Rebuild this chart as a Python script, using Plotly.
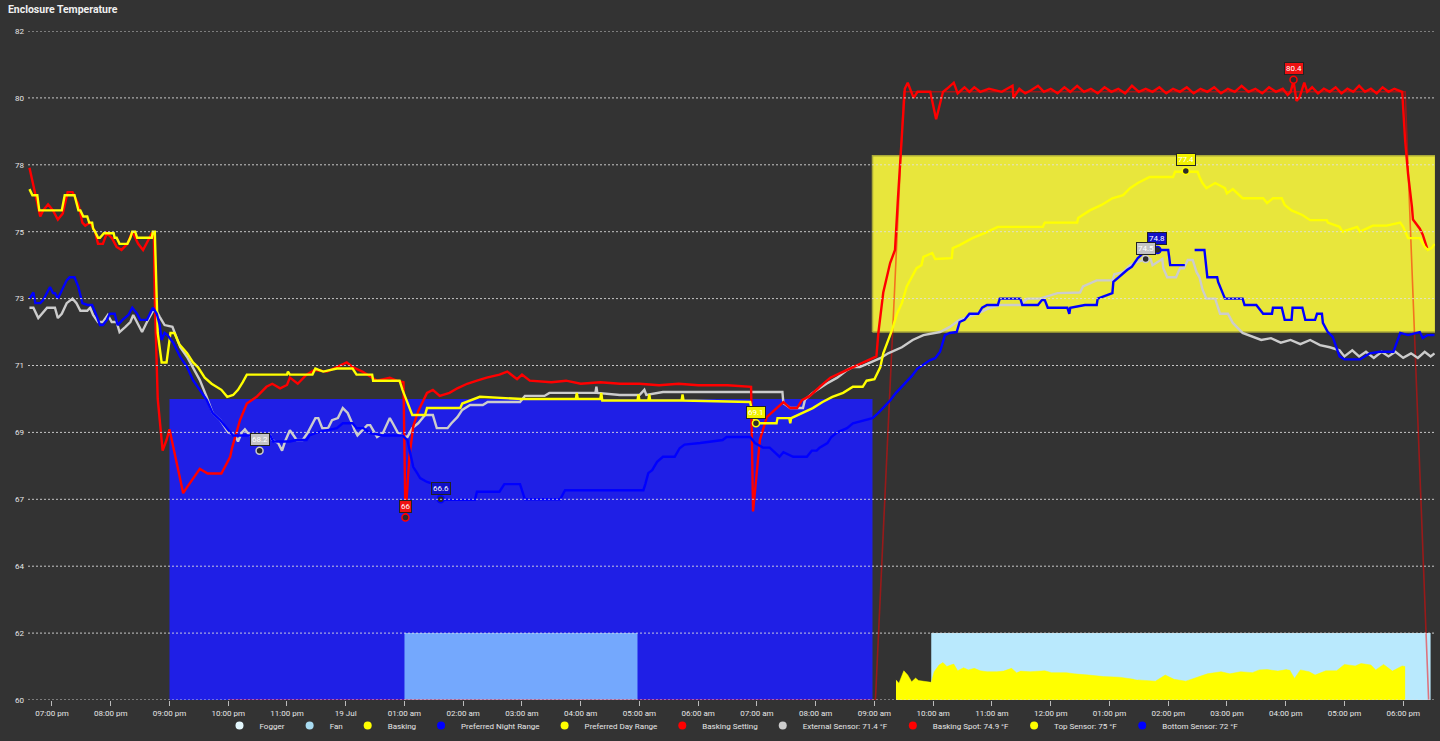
import plotly.graph_objects as go

# ---------------------------------------------------------------------------
# Data. Clock times "HH:MM"; the window runs from
# 18:35 on 18 Jul to ~18:33 on 19 Jul, so the date is implied by the time.
# ---------------------------------------------------------------------------
DAY_ONE = "2023-07-18"
DAY_TWO = "2023-07-19"

tick_clock = ["19:00", "20:00", "21:00", "22:00", "23:00", "00:00", "01:00", "02:00",
              "03:00", "04:00", "05:00", "06:00", "07:00", "08:00", "09:00", "10:00",
              "11:00", "12:00", "13:00", "14:00", "15:00", "16:00", "17:00", "18:00"]
tick_text = ["07:00 pm", "08:00 pm", "09:00 pm", "10:00 pm", "11:00 pm", "19 Jul",
             "01:00 am", "02:00 am", "03:00 am", "04:00 am", "05:00 am", "06:00 am",
             "07:00 am", "08:00 am", "09:00 am", "10:00 am", "11:00 am", "12:00 pm",
             "01:00 pm", "02:00 pm", "03:00 pm", "04:00 pm", "05:00 pm", "06:00 pm"]

y_tick_values = [60, 62.2, 64.4, 66.6, 68.8, 71, 73.2, 75.4, 77.6, 79.8, 82]
y_tick_text = ["60", "62", "64", "67", "69", "71", "73", "75", "78", "80", "82"]

# preferred ranges
night_range_times = ["21:00", "08:58"]
night_range_low = 60
night_range_high = 69.9
day_range_times = ["08:58", "18:33"]
day_range_low = 72.1
day_range_high = 77.9

# on/off devices (drawn as level 62.2 when on)
fogger_times = ["01:00", "04:58"]
fogger_values = [62.2, 62.2]
fan_times = ["09:58", "18:28"]
fan_values = [62.2, 62.2]

basking_times = ["09:22", "09:25", "09:30", "09:34", "09:38", "09:42", "09:45", "09:52",
                 "09:58", "10:01", "10:06", "10:10", "10:14", "10:18", "10:21", "10:25",
                 "10:31", "10:36", "10:42", "10:48", "10:55", "11:05", "11:12", "11:20",
                 "11:25", "11:27", "11:29", "11:39", "11:54", "12:01", "12:16", "12:24",
                 "12:39", "12:54", "13:10", "13:25", "13:27", "13:29", "13:47", "13:57",
                 "14:06", "14:18", "14:29", "14:40", "14:54", "15:03", "15:14", "15:26",
                 "15:33", "15:41", "15:52", "16:01", "16:02", "16:04", "16:09", "16:15",
                 "16:24", "16:30", "16:41", "16:52", "17:00", "17:11", "17:17", "17:27",
                 "17:32", "17:40", "17:49", "17:59", "18:02"]
basking_values = [60.66, 60.55, 60.96, 60.82, 60.6, 60.72, 60.64, 60.6,
                  60.58, 60.93, 61.15, 61.23, 61.1, 61.15, 61.18, 60.96,
                  61.06, 60.99, 61.04, 60.96, 60.93, 60.93, 60.95, 61.04,
                  60.9, None, 60.95, 60.93, 60.96, 60.9, 60.9, 60.86,
                  60.82, 60.77, 60.75, 60.68, None, 60.66, 60.62, 60.82,
                  60.68, 60.62, 60.75, 60.86, 60.93, 60.86, 60.93, 60.9,
                  60.99, 61.0, 60.95, 61.0, None, 60.99, 60.71, 60.99,
                  60.93, 60.82, 60.96, 60.96, 61.17, 61.12, 61.2, 61.15,
                  60.99, 61.17, 60.95, 61.12, 61.1]

basking_setting_times = ["22:00", "09:01", "09:30", "18:02", "18:26"]
basking_setting_values = [60, 60, 80, 80, 60]

external_times = ["18:37", "18:41", "18:46", "18:50", "18:55", "19:03", "19:06", "19:10",
                  "19:15", "19:21", "19:25", "19:29", "19:36", "19:39", "19:42", "19:47",
                  "19:52", "19:57", "20:01", "20:06", "20:09", "20:15", "20:20", "20:23",
                  "20:27", "20:32", "20:37", "20:42", "20:45", "20:50", "20:55", "21:03",
                  "21:11", "21:18", "21:24", "21:31", "21:38", "21:44", "21:52", "22:00",
                  "22:07", "22:10", "22:14", "22:17", "22:22", "22:43", "22:45", "22:51",
                  "22:55", "22:58", "23:03", "23:10", "23:16", "23:21", "23:29", "23:32",
                  "23:36", "23:42", "23:46", "23:52", "23:57", "00:02", "00:06", "00:09",
                  "00:12", "00:22", "00:25", "00:32", "00:38", "00:45", "00:48", "00:53",
                  "00:58", "01:03", "01:08", "01:14", "01:21", "01:29", "01:33", "01:44",
                  "01:48", "01:54", "01:59", "02:07", "02:20", "02:25", "02:58", "03:03",
                  "03:23", "03:28", "04:15", "04:16", "04:17", "04:40", "05:00", "05:05",
                  "05:07", "05:24", "07:26", "07:27", "07:34", "07:47", "07:49", "07:57",
                  "08:11", "08:22", "08:32", "08:38", "08:45", "08:55", "09:06", "09:14",
                  "09:28", "09:39", "09:50", "10:07", "10:17", "10:27", "10:45", "10:58",
                  "11:08", "11:29", "11:36", "11:49", "12:07", "12:30", "12:33", "12:47",
                  "13:03", "13:05", "13:14", "13:21", "13:28", "13:38", "13:42", "13:44",
                  "13:54", "13:55", "13:59", "14:08", "14:12", "14:16", "14:20", "14:25",
                  "14:29", "14:32", "14:35", "14:39", "14:48", "14:50", "14:53", "15:01",
                  "15:06", "15:16", "15:25", "15:35", "15:45", "15:55", "16:05", "16:15",
                  "16:25", "16:35", "16:45", "16:55", "17:00", "17:08", "17:15", "17:22",
                  "17:30", "17:38", "17:45", "17:52", "18:00", "18:08", "18:15", "18:22",
                  "18:28", "18:32"]
external_values = [72.9, 72.9, 72.56, 72.7, 72.9, 72.9, 72.56, 72.7,
                   73.05, 73.2, 73.05, 72.8, 72.8, 72.9, 72.66, 72.43,
                   72.43, 72.66, 72.43, 72.43, 72.1, 72.27, 72.43, 72.66,
                   72.43, 72.1, 72.43, 72.7, 72.9, 72.6, 72.33, 72.27,
                   71.6, 71.28, 70.95, 70.52, 69.97, 69.44, 69.2, 68.8,
                   68.7, 68.5, 68.8, 68.9, 68.7, 68.7, 68.55, 68.45,
                   68.2, 68.5, 68.87, 68.55, 68.55, 68.78, 69.27, 69.27,
                   68.94, 68.94, 69.2, 69.27, 69.6, 69.44, 69.14, 68.88,
                   68.7, 69.04, 69.04, 68.65, 68.78, 69.27, 69.1, 68.8,
                   68.7, 68.65, 68.94, 69.1, 69.37, 69.37, 68.94, 68.94,
                   69.1, 69.3, 69.54, 69.7, 69.7, 69.8, 69.8, 70.0,
                   70.0, 70.1, 70.1, 70.3, 70.1, 70.03, 70.03, 70.2,
                   70.03, 70.13, 70.13, 69.76, 69.6, 69.6, 69.87, 70.1,
                   70.4, 70.6, 70.85, 70.95, 70.95, 71.1, 71.24, 71.4,
                   71.6, 71.84, 72.0, 72.1, 72.27, 72.5, 72.7, 72.9,
                   72.99, 72.99, 73.2, 73.2, 73.38, 73.4, 73.6, 73.8,
                   73.8, 74.0, 74.07, 74.3, 74.4, 74.5, 74.5, 74.3,
                   74.5, 74.2, 73.9, 73.9, 74.2, 74.2, 74.47, 74.47,
                   74.07, 73.9, 73.5, 73.2, 73.2, 72.99, 72.7, 72.7,
                   72.4, 72.07, 71.96, 71.84, 71.9, 71.75, 71.84, 71.7,
                   71.84, 71.67, 71.6, 71.5, 71.3, 71.5, 71.3, 71.45,
                   71.25, 71.45, 71.3, 71.45, 71.25, 71.4, 71.25, 71.45,
                   71.3, 71.4]

basking_spot_times = ["18:37", "18:48", "18:51", "18:56", "19:01", "19:06", "19:11", "19:16",
                      "19:21", "19:27", "19:31", "19:34", "19:39", "19:44", "19:47", "19:52",
                      "19:56", "20:01", "20:06", "20:11", "20:17", "20:22", "20:25", "20:28",
                      "20:33", "20:38", "20:42", "20:44", "20:45", "20:48", "20:52", "20:53",
                      "20:57", "21:00", "21:14", "21:18", "21:31", "21:39", "21:53", "22:02",
                      "22:04", "22:12", "22:19", "22:29", "22:39", "22:45", "22:53", "23:00",
                      "23:03", "23:11", "23:20", "23:28", "23:41", "23:54", "00:01", "00:07",
                      "00:17", "00:32", "00:45", "00:52", "00:59", "01:01", "01:05", "01:09",
                      "01:14", "01:23", "01:29", "01:36", "01:46", "01:54", "02:04", "02:14",
                      "02:24", "02:37", "02:45", "02:55", "03:00", "03:08", "03:30", "03:45",
                      "04:00", "04:20", "04:40", "05:00", "05:20", "05:40", "06:00", "06:30",
                      "06:54", "06:56", "07:03", "07:10", "07:20", "07:27", "07:34", "07:41",
                      "07:46", "07:54", "08:04", "08:15", "08:25", "08:38", "08:48", "08:55",
                      "09:02", "09:04", "09:09", "09:16", "09:21", "09:24", "09:28", "09:31",
                      "09:34", "09:40", "09:44", "09:57", "10:03", "10:10", "10:14", "10:21",
                      "10:25", "10:32", "10:37", "10:42", "10:48", "10:57", "11:10", "11:21",
                      "11:22", "11:28", "11:34", "11:40", "11:47", "11:53", "12:00", "12:07",
                      "12:14", "12:20", "12:27", "12:34", "12:41", "12:48", "12:55", "13:02",
                      "13:09", "13:16", "13:23", "13:30", "13:37", "13:44", "13:51", "13:58",
                      "14:05", "14:12", "14:19", "14:26", "14:33", "14:40", "14:47", "14:54",
                      "15:01", "15:08", "15:15", "15:22", "15:29", "15:36", "15:43", "15:50",
                      "15:57", "16:02", "16:05", "16:08", "16:11", "16:14", "16:19", "16:22",
                      "16:27", "16:33", "16:39", "16:45", "16:51", "16:57", "17:03", "17:09",
                      "17:15", "17:21", "17:27", "17:33", "17:39", "17:45", "17:51", "17:56",
                      "17:59", "18:02", "18:05", "18:09", "18:10", "18:17", "18:20", "18:24",
                      "18:25"]
basking_spot_values = [77.5, 75.9, 76.1, 76.3, 76.1, 75.8, 76.0, 76.7,
                       76.7, 76.3, 75.7, 75.6, 75.7, 75.4, 75.0, 75.0,
                       75.35, 75.2, 74.9, 74.8, 75.0, 75.4, 75.2, 75.0,
                       74.8, 75.1, 75.35, 75.4, 73.2, 69.9, 68.5, 68.2,
                       68.55, 68.9, 66.8, 67.0, 67.6, 67.45, 67.45, 68.0,
                       68.3, 69.2, 69.75, 69.97, 70.3, 70.4, 70.25, 70.36,
                       70.6, 70.4, 70.7, 70.85, 70.8, 71.0, 71.1, 70.95,
                       70.8, 70.5, 70.6, 70.5, 70.45, 66.0, 68.0, 69.0,
                       69.5, 70.1, 70.2, 70.0, 70.1, 70.25, 70.4, 70.5,
                       70.6, 70.7, 70.8, 70.55, 70.7, 70.5, 70.45, 70.5,
                       70.4, 70.45, 70.4, 70.4, 70.35, 70.4, 70.35, 70.35,
                       70.3, 66.2, 68.55, 69.3, 69.6, 69.8, 69.6, 69.6,
                       69.86, 70.0, 70.3, 70.6, 70.75, 70.95, 71.1, 71.2,
                       71.3, 72.07, 73.4, 74.37, 74.8, 76.5, 78.4, 80.1,
                       80.3, 79.8, 80.0, 80.0, 79.1, 80.0, 80.1, 80.3,
                       79.95, 80.15, 80.0, 80.15, 80.0, 80.1, 80.0, 80.2,
                       79.8, 80.1, 79.95, 80.05, 80.2, 80.0, 80.1, 79.95,
                       80.15, 80.0, 80.2, 80.0, 80.1, 79.95, 80.15, 80.0,
                       80.1, 79.95, 80.2, 80.0, 80.1, 80.0, 80.15, 79.95,
                       80.1, 80.0, 80.15, 79.95, 80.1, 80.0, 80.15, 79.95,
                       80.1, 80.0, 80.2, 80.0, 80.1, 79.95, 80.15, 80.0,
                       80.1, 79.9, 80.0, 80.35, 79.7, 79.8, 80.3, 80.0,
                       80.15, 79.95, 80.1, 80.0, 80.15, 79.95, 80.1, 80.0,
                       80.2, 80.0, 80.1, 79.95, 80.15, 80.0, 80.1, 80.05,
                       80.0, 78.4, 77.3, 76.2, 75.8, 75.5, 75.3, 74.9,
                       74.8]

top_times = ["18:37", "18:40", "18:45", "18:47", "19:10", "19:13", "19:23", "19:27",
             "19:29", "19:32", "19:36", "19:38", "19:41", "19:42", "19:44", "19:47",
             "19:49", "19:53", "20:03", "20:04", "20:06", "20:09", "20:17", "20:20",
             "20:22", "20:25", "20:27", "20:42", "20:43", "20:45", "20:47", "20:48",
             "20:52", "20:57", "21:01", "21:05", "21:10", "21:18", "21:24", "21:29",
             "21:36", "21:43", "21:53", "21:59", "22:05", "22:10", "22:15", "22:19",
             "23:00", "23:01", "23:03", "23:26", "23:29", "23:37", "23:51", "00:07",
             "00:11", "00:27", "00:28", "00:55", "00:58", "01:03", "01:08", "01:21",
             "01:23", "01:57", "01:59", "02:17", "03:00", "03:55", "03:56", "03:57",
             "04:20", "04:21", "04:22", "04:58", "04:59", "05:00", "05:09", "05:10",
             "05:11", "05:43", "05:44", "05:45", "06:53", "06:56", "06:58", "07:20",
             "07:21", "07:33", "07:34", "07:35", "07:44", "07:57", "08:07", "08:17",
             "08:28", "08:38", "08:48", "08:52", "09:00", "09:06", "09:09", "09:14",
             "09:18", "09:23", "09:28", "09:33", "09:38", "09:43", "09:48", "09:50",
             "09:59", "10:02", "10:19", "10:20", "10:27", "10:40", "10:53", "11:06",
             "11:52", "11:54", "12:27", "12:28", "12:40", "12:52", "13:03", "13:14",
             "13:21", "13:29", "13:41", "14:05", "14:07", "14:30", "14:32", "14:35",
             "14:39", "14:48", "14:58", "15:00", "15:06", "15:10", "15:16", "15:37",
             "15:41", "15:47", "15:56", "15:59", "16:06", "16:17", "16:25", "16:42",
             "16:43", "16:55", "16:58", "17:13", "17:16", "17:29", "17:43", "17:57",
             "18:00", "18:05", "18:17", "18:22", "18:25", "18:29", "18:32"]
top_values = [76.8, 76.6, 76.6, 76.1, 76.1, 76.6, 76.6, 76.1,
              76.1, 75.9, 75.9, 75.7, 75.7, 75.5, 75.4, 75.2,
              75.2, 75.35, 75.35, 75.2, 75.2, 75.0, 75.0, 75.2,
              75.4, 75.4, 75.2, 75.2, 75.4, 75.4, 73.15, 72.07,
              71.1, 71.1, 72.07, 72.07, 71.7, 71.4, 71.1, 70.95,
              70.6, 70.4, 70.2, 69.97, 70.03, 70.2, 70.46, 70.7,
              70.7, 70.8, 70.7, 70.7, 70.9, 70.8, 70.9, 70.9,
              70.7, 70.7, 70.5, 70.5, 70.2, 69.75, 69.37, 69.37,
              69.6, 69.6, 69.75, 69.97, 69.9, 69.9, 70.1, 69.9,
              69.9, 70.1, 69.85, 69.85, 70.05, 69.85, 69.85, 70.05,
              69.85, 69.85, 70.05, 69.85, 69.8, 69.37, 69.1, 69.1,
              69.27, 69.27, 69.1, 69.27, 69.4, 69.6, 69.8, 69.97,
              70.1, 70.3, 70.3, 70.5, 70.55, 70.95, 71.4, 71.84,
              72.17, 72.7, 73.05, 73.6, 73.9, 74.2, 74.3, 74.57,
              74.7, 74.5, 74.53, 74.86, 74.96, 75.19, 75.36, 75.56,
              75.56, 75.7, 75.7, 75.85, 76.1, 76.28, 76.5, 76.6,
              76.83, 77.0, 77.2, 77.2, 77.37, 77.37, 77.2, 77.0,
              76.83, 77.0, 76.83, 76.66, 76.8, 76.67, 76.5, 76.5,
              76.34, 76.5, 76.5, 76.28, 76.1, 75.95, 75.78, 75.78,
              75.7, 75.56, 75.4, 75.56, 75.4, 75.6, 75.6, 75.7,
              75.56, 75.19, 75.19, 74.9, 74.8, 74.86, 75.0]

bottom_times = ["18:37", "18:41", "18:43", "18:48", "18:51", "18:55", "18:58", "19:01",
                "19:03", "19:06", "19:11", "19:15", "19:18", "19:23", "19:27", "19:31",
                "19:36", "19:41", "19:46", "19:49", "19:52", "19:56", "19:59", "20:04",
                "20:07", "20:12", "20:18", "20:22", "20:27", "20:30", "20:37", "20:40",
                "20:43", "20:47", "20:50", "20:52", "20:55", "20:58", "21:04", "21:11",
                "21:18", "21:24", "21:31", "21:38", "21:44", "21:52", "22:00", "22:05",
                "22:43", "22:46", "23:03", "23:10", "23:20", "23:23", "23:31", "23:44",
                "23:51", "23:57", "00:07", "00:11", "00:18", "00:25", "00:38", "00:58",
                "01:03", "01:06", "01:09", "01:13", "01:16", "01:23", "01:33", "01:36",
                "02:12", "02:14", "02:37", "02:42", "02:58", "03:03", "03:39", "03:44",
                "05:04", "05:06", "05:09", "05:13", "05:18", "05:24", "05:36", "05:41",
                "05:46", "06:02", "06:25", "06:29", "06:53", "06:58", "07:06", "07:13",
                "07:23", "07:27", "07:37", "07:51", "07:56", "08:01", "08:04", "08:12",
                "08:16", "08:22", "08:27", "08:32", "08:38", "08:58", "09:04", "09:09",
                "09:16", "09:22", "09:28", "09:33", "09:38", "09:44", "09:52", "09:57",
                "10:02", "10:07", "10:12", "10:17", "10:24", "10:27", "10:32", "10:37",
                "10:46", "10:50", "10:55", "11:06", "11:08", "11:29", "11:31", "11:47",
                "11:51", "11:54", "11:57", "12:17", "12:19", "12:20", "12:35", "12:47",
                "12:48", "13:03", "13:04", "13:09", "13:18", "13:23", "13:29", "13:38",
                "14:00", "14:01", "14:02", "14:17", "14:22", "14:27", "14:37", "14:40",
                "14:50", "14:51", "14:55", "14:58", "15:16", "15:18", "15:30", "15:37",
                "15:46", "15:47", "15:56", "15:59", "16:06", "16:07", "16:17", "16:20",
                "16:30", "16:32", "16:37", "16:38", "16:43", "16:48", "16:55", "17:00",
                "17:16", "17:21", "17:26", "17:36", "17:50", "17:57", "18:05", "18:17",
                "18:20", "18:25", "18:32"]
bottom_values = [73.2, 73.4, 73.05, 73.05, 73.15, 73.38, 73.58, 73.38,
                 73.38, 73.2, 73.55, 73.8, 73.9, 73.9, 73.58, 73.05,
                 72.99, 72.99, 72.6, 72.33, 72.33, 72.5, 72.7, 72.7,
                 72.33, 72.5, 72.66, 72.9, 72.7, 72.5, 72.5, 72.7,
                 72.9, 72.7, 72.33, 71.84, 72.07, 72.0, 71.74, 71.28,
                 70.95, 70.52, 70.2, 69.87, 69.44, 69.2, 68.88, 68.7,
                 68.7, 68.5, 68.5, 68.55, 68.55, 68.7, 68.8, 68.88,
                 68.94, 69.1, 69.1, 68.94, 68.94, 68.78, 68.7, 68.7,
                 68.55, 68.1, 67.66, 67.46, 67.3, 67.17, 67.07, 66.58,
                 66.58, 66.85, 66.85, 67.1, 67.1, 66.6, 66.6, 66.9,
                 66.9, 67.1, 67.46, 67.56, 67.83, 68.0, 68.0, 68.28,
                 68.4, 68.45, 68.55, 68.65, 68.65, 68.45, 68.3, 68.3,
                 68.0, 68.15, 68.0, 68.0, 68.2, 68.2, 68.3, 68.45,
                 68.65, 68.8, 68.88, 68.94, 69.1, 69.27, 69.44, 69.6,
                 69.85, 70.1, 70.3, 70.45, 70.65, 70.9, 71.08, 71.18,
                 71.24, 71.45, 72.0, 72.07, 72.1, 72.43, 72.5, 72.7,
                 72.7, 72.9, 72.99, 72.99, 73.2, 73.2, 72.99, 72.99,
                 73.15, 73.15, 72.9, 72.9, 72.7, 72.9, 72.99, 72.99,
                 73.2, 73.38, 73.75, 73.9, 74.14, 74.25, 74.53, 74.8,
                 74.8, 74.57, 74.3, 74.3, None, 74.8, 74.8, 73.9,
                 73.9, 73.75, 73.4, 73.2, 73.2, 72.99, 72.99, 72.7,
                 72.7, 72.9, 72.9, 72.5, 72.5, 72.9, 72.9, 72.5,
                 72.5, 72.7, 72.7, 72.4, 72.1, 71.94, 71.3, 71.2,
                 71.2, 71.3, 71.4, 71.45, 71.45, 72.07, 72.0, 72.1,
                 71.9, 72.0, 72.0]

# min / max markers shown with value labels
extreme_times = ["22:32", "01:01", "01:37", "06:59", "14:18", "13:49", "13:37", "16:08"]
extreme_values = [68.2, 66.0, 66.6, 69.1, 77.4, 74.8, 74.5, 80.4]
extreme_series = ["External Sensor", "Basking Spot", "Bottom Sensor", "Top Sensor",
                  "Top Sensor", "Bottom Sensor", "External Sensor", "Basking Spot"]

# latest readings for the legend
latest_readings = {"External Sensor": 71.4, "Basking Spot": 74.9,
                   "Top Sensor": 75, "Bottom Sensor": 72}

# ---------------------------------------------------------------------------
# Styling
# ---------------------------------------------------------------------------
BG = "#333333"
TEXT = "#e6e6e6"
FONT = "Roboto"
SENSOR_COLORS = {"External Sensor": "#cccccc", "Basking Spot": "#ff0000",
                 "Top Sensor": "#ffff00", "Bottom Sensor": "#0000ff"}
LABEL_FILLS = {"External Sensor": "#c4c4c4", "Basking Spot": "#ee1111",
               "Top Sensor": "#f2f200", "Bottom Sensor": "#1010c8"}


def stamp(hhmm):
    """Turns a clock time into a full timestamp (18:35 onwards belongs to 18 Jul)."""
    day = DAY_ONE if hhmm >= "18:35" else DAY_TWO
    return f"{day} {hhmm}"


def stamps(clock_list):
    return [stamp(c) for c in clock_list]


fig = go.Figure()

# preferred ranges as filled boxes
t0, t1 = stamps(night_range_times)
fig.add_trace(go.Scatter(
    x=[t0, t1, t1, t0, t0],
    y=[night_range_low, night_range_low, night_range_high, night_range_high, night_range_low],
    fill="toself", fillcolor="#1f1fe6", mode="lines", line=dict(width=0),
    hoverinfo="skip", showlegend=False))

t0, t1 = stamps(day_range_times)
fig.add_trace(go.Scatter(
    x=[t0, t1, t1, t0, t0],
    y=[day_range_low, day_range_low, day_range_high, day_range_high, day_range_low],
    fill="toself", fillcolor="#e8e63c", mode="lines",
    line=dict(width=1.5, color="#a9a838"),
    hoverinfo="skip", showlegend=False))

# device states
fig.add_trace(go.Scatter(x=stamps(fogger_times), y=fogger_values, fill="tozeroy",
                         fillcolor="#74a8fd", mode="lines", line=dict(width=0),
                         hoverinfo="skip", showlegend=False))
fig.add_trace(go.Scatter(x=stamps(fan_times), y=fan_values, fill="tozeroy",
                         fillcolor="#b9e9fd", mode="lines", line=dict(width=0),
                         hoverinfo="skip", showlegend=False))
fig.add_trace(go.Scatter(x=stamps(basking_times), y=basking_values, fill="tozeroy",
                         fillcolor="#ffff00", mode="lines", line=dict(width=0.5, color="#ffff00"),
                         hoverinfo="skip", showlegend=False))
fig.add_trace(go.Scatter(x=stamps(basking_setting_times), y=basking_setting_values,
                         mode="lines", line=dict(width=1.6, color="rgba(255,0,0,0.5)"),
                         hoverinfo="skip", showlegend=False))

# sensor lines
sensor_data = [
    ("External Sensor", external_times, external_values),
    ("Basking Spot", basking_spot_times, basking_spot_values),
    ("Top Sensor", top_times, top_values),
    ("Bottom Sensor", bottom_times, bottom_values),
]
for name, times, values in sensor_data:
    assert len(times) == len(values), name
    fig.add_trace(go.Scatter(x=stamps(times), y=values, mode="lines",
                             line=dict(width=2.4, color=SENSOR_COLORS[name]),
                             connectgaps=False, name=name, showlegend=False))

# extreme markers + value labels
fig.add_trace(go.Scatter(
    x=stamps(extreme_times), y=extreme_values, mode="markers",
    marker=dict(size=7, color="#2b2b2b",
                line=dict(width=1.5, color=[SENSOR_COLORS[s] for s in extreme_series])),
    hoverinfo="skip", showlegend=False))
for t, v, s in zip(extreme_times, extreme_values, extreme_series):
    fig.add_annotation(x=stamp(t), y=v, text=f"{v:g}", showarrow=False, yshift=11,
                       font=dict(family=FONT, size=8, color="#ffffff"),
                       bgcolor=LABEL_FILLS[s], bordercolor="#222222", borderwidth=1,
                       borderpad=1)

# legend entries drawn as round dots, like the source chart
legend_entries = [
    ("Fogger", "#e3f7fd"), ("Fan", "#a9dcf2"), ("Basking", "#ffff00"),
    ("Preferred Night Range", "#0000ff"), ("Preferred Day Range", "#ffff00"),
    ("Basking Setting", "#ff0000"),
]
legend_entries += [(f"{n}: {latest_readings[n]:g} °F", SENSOR_COLORS[n]) for n in latest_readings]
for label, color in legend_entries:
    fig.add_trace(go.Scatter(x=[None], y=[None], mode="markers", name=label,
                             marker=dict(size=8, color=color, symbol="circle")))

# dotted horizontal grid drawn over the range boxes
for v in y_tick_values:
    fig.add_shape(type="line", xref="paper", x0=0, x1=1, yref="y", y0=v, y1=v,
                  line=dict(color="rgba(225,225,225,0.85)", width=1, dash="2px,2px"),
                  layer="above")

fig.update_layout(
    width=1440, height=741,
    paper_bgcolor=BG, plot_bgcolor=BG,
    font=dict(family=FONT, color=TEXT, size=8),
    margin=dict(l=28, r=5, t=31, b=41, autoexpand=False),
    title=dict(text="Enclosure Temperature", x=0.0055, xanchor="left", y=0.988,
               yanchor="middle", xref="container", yref="container",
               font=dict(family=FONT, size=10.5, color="#f0f0f0", weight="bold")),
    showlegend=True,
    legend=dict(orientation="h", x=0.5, xanchor="center", y=-0.038, yanchor="middle",
                font=dict(family=FONT, size=8, color=TEXT), bgcolor="rgba(0,0,0,0)",
                itemwidth=30, tracegroupgap=0),
    xaxis=dict(type="date", range=["2023-07-18 18:35:30", "2023-07-19 18:32:30"],
               tickvals=stamps(tick_clock), ticktext=tick_text, ticks="outside",
               ticklen=5, tickcolor="#bbbbbb", showgrid=False, zeroline=False,
               showline=False, tickfont=dict(family=FONT, size=8, color=TEXT)),
    yaxis=dict(range=[60, 82], tickvals=y_tick_values, ticktext=y_tick_text,
               showgrid=False, zeroline=False, showline=False, ticks="",
               ticklabelstandoff=3, tickfont=dict(family=FONT, size=8, color=TEXT)),
)

# the page's default body margin would push the fixed-size figure off the window
fig.write_html("out.html", config={"displayModeBar": False},
               post_script="document.body.style.margin='0';document.body.style.overflow='hidden';")
